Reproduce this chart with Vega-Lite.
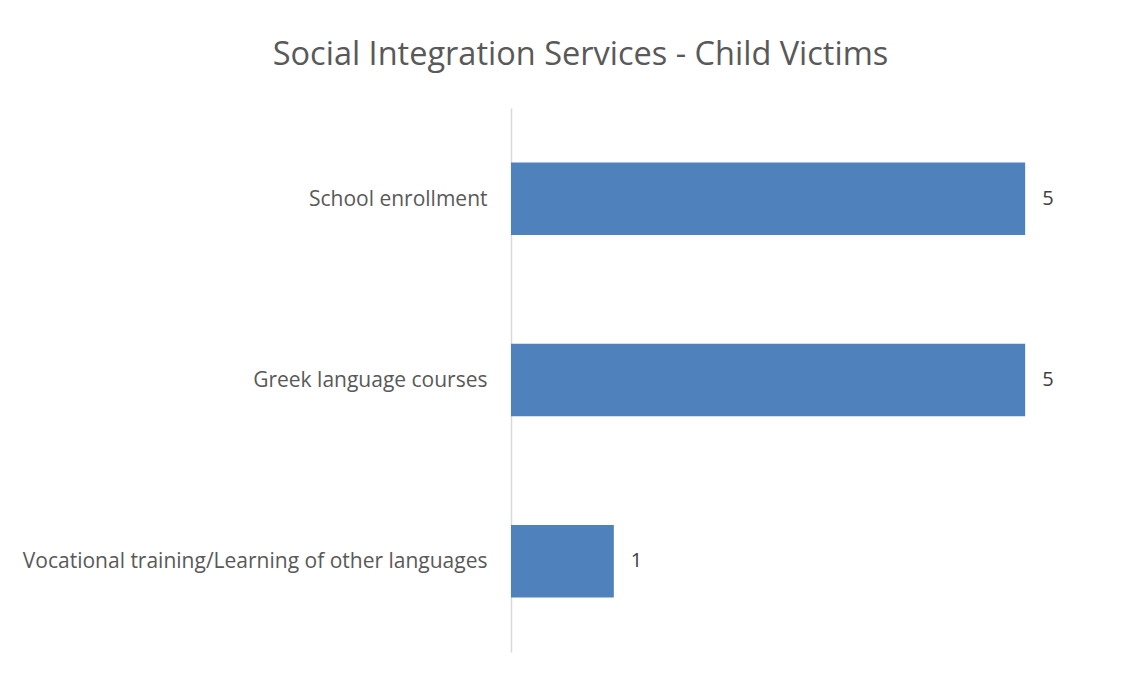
{
  "$schema": "https://vega.github.io/schema/vega-lite/v6.json",
  "width": 617,
  "height": 544,
  "autosize": "none",
  "padding": {"left": 511, "top": 108, "right": 18, "bottom": 21},
  "background": "white",
  "title": {
    "text": "Social Integration Services - Child Victims",
    "font": "Open Sans",
    "fontSize": 32.5,
    "fontWeight": "normal",
    "color": "#595959",
    "anchor": "middle",
    "frame": "group",
    "dx": -239,
    "baseline": "alphabetic",
    "offset": 11
  },
  "data": {
    "values": [
      {"category": "School enrollment", "value": 5},
      {"category": "Greek language courses", "value": 5},
      {"category": "Vocational training/Learning of other languages", "value": 1}
    ]
  },
  "encoding": {
    "y": {
      "field": "category",
      "type": "nominal",
      "sort": null,
      "scale": {"paddingInner": 0.6, "paddingOuter": 0.3},
      "axis": {
        "title": null,
        "domainColor": "#d9d9d9",
        "domainWidth": 1.5,
        "ticks": false,
        "labelPadding": 24,
        "labelOffset": 1,
        "labelFont": "Open Sans",
        "labelFontSize": 21,
        "labelColor": "#595959",
        "labelLimit": 0
      }
    },
    "x": {
      "field": "value",
      "type": "quantitative",
      "scale": {"domain": [0, 6], "nice": false},
      "axis": null
    }
  },
  "layer": [
    {"mark": {"type": "bar", "color": "#4f81bd"}},
    {
      "mark": {"type": "text", "align": "left", "dx": 17, "font": "Open Sans", "fontSize": 20, "color": "#404040"},
      "encoding": {"text": {"field": "value", "type": "quantitative"}}
    }
  ],
  "config": {"view": {"stroke": null}}
}
